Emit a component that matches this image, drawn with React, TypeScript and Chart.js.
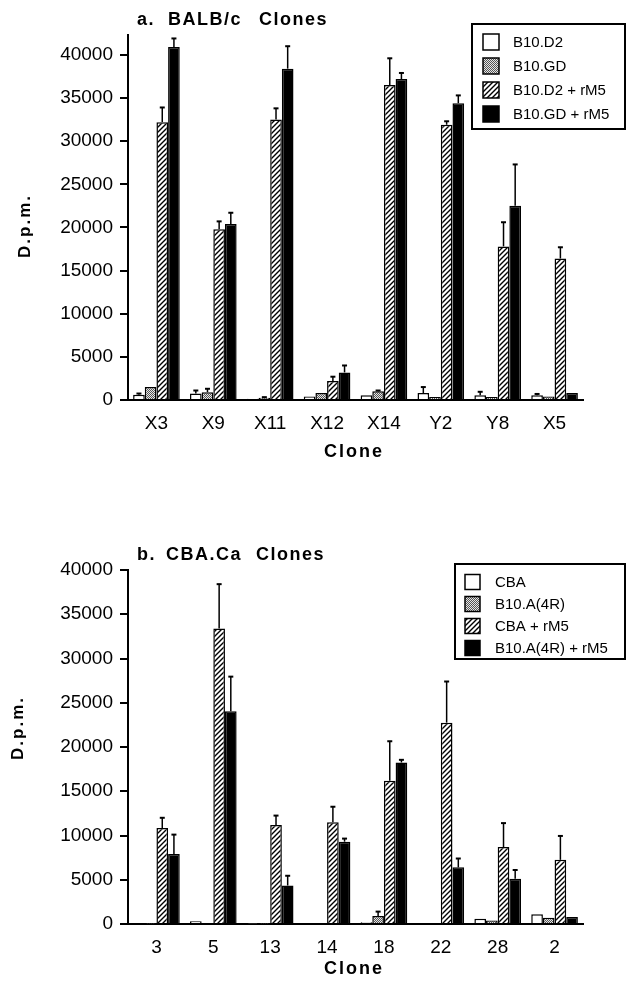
import React, { useEffect, useRef } from 'react';
import { Chart, registerables } from 'chart.js';
Chart.register(...registerables);

// ---------- data: panel a ----------
const clonesA = ['X3', 'X9', 'X11', 'X12', 'X14', 'Y2', 'Y8', 'X5'];
const seriesNamesA = ['B10.D2', 'B10.GD', 'B10.D2 + rM5', 'B10.GD + rM5'];
const b10d2 = [600, 750, 150, 400, 550, 800, 550, 550];
const b10d2Err = [150, 350, 0, 0, 0, 700, 400, 150];
const b10gd = [1500, 900, 250, 800, 1000, 350, 350, 400];
const b10gdErr = [0, 400, 80, 0, 100, 0, 0, 0];
const b10d2rM5 = [32200, 19800, 32500, 2200, 36500, 31900, 17800, 16400];
const b10d2rM5Err = [1700, 900, 1300, 500, 3100, 400, 2800, 1300];
const b10gdrM5 = [40900, 20400, 38400, 3200, 37200, 34400, 22500, 800];
const b10gdrM5Err = [1000, 1300, 2600, 800, 700, 900, 4800, 0];

// ---------- data: panel b ----------
const clonesB = ['3', '5', '13', '14', '18', '22', '28', '2'];
const seriesNamesB = ['CBA', 'B10.A(4R)', 'CBA + rM5', 'B10.A(4R) + rM5'];
const cba = [100, 300, 50, 100, 200, 100, 600, 1100];
const cbaErr = [0, 0, 0, 0, 0, 0, 0, 0];
const b10a4r = [50, 100, 50, 100, 900, 100, 400, 700];
const b10a4rErr = [0, 0, 0, 0, 500, 0, 0, 0];
const cbarM5 = [10850, 33400, 11200, 11500, 16200, 22750, 8700, 7250];
const cbarM5Err = [1150, 5000, 1050, 1750, 4450, 4650, 2700, 2700];
const b10a4rrM5 = [7900, 24050, 4350, 9300, 18250, 6400, 5100, 800];
const b10a4rrM5Err = [2200, 3900, 1100, 350, 300, 1000, 1000, 0];

// ---------- tick labels (both panels) ----------
const yTickValues = [0, 5000, 10000, 15000, 20000, 25000, 30000, 35000, 40000];

const FONT = '"Liberation Sans", Arial, Helvetica, sans-serif';

function makeStipple(): CanvasPattern | string {
  const c = document.createElement('canvas');
  c.width = 2; c.height = 2;
  const g = c.getContext('2d');
  if (!g) return '#999';
  g.fillStyle = '#e6e6e6'; g.fillRect(0, 0, 2, 2);
  g.fillStyle = '#555'; g.fillRect(0, 0, 1, 1); g.fillRect(1, 1, 1, 1);
  return g.createPattern(c, 'repeat') || '#999';
}

function makeHatch(): CanvasPattern | string {
  const s = 5;
  const c = document.createElement('canvas');
  c.width = s; c.height = s;
  const g = c.getContext('2d');
  if (!g) return '#ccc';
  g.fillStyle = '#fff'; g.fillRect(0, 0, s, s);
  g.strokeStyle = '#000'; g.lineWidth = 1.4;
  g.beginPath();
  g.moveTo(-1, s + 1); g.lineTo(s + 1, -1);
  g.moveTo(-1, 1); g.lineTo(1, -1);
  g.moveTo(s - 1, s + 1); g.lineTo(s + 1, s - 1);
  g.stroke();
  return g.createPattern(c, 'repeat') || '#ccc';
}

const errorBars = {
  id: 'errorBars',
  afterDatasetsDraw(chart: any) {
    const ctx = chart.ctx;
    const ys = chart.scales.y;
    chart.data.datasets.forEach((ds: any, di: number) => {
      const meta = chart.getDatasetMeta(di);
      const errs: number[] = ds.errors || [];
      meta.data.forEach((el: any, i: number) => {
        const e = errs[i];
        if (!e) return;
        const v = ds.data[i];
        const x = el.x;
        const y0 = ys.getPixelForValue(v);
        const y1 = ys.getPixelForValue(v + e);
        ctx.save();
        ctx.strokeStyle = '#000';
        ctx.lineWidth = 1.5;
        ctx.beginPath(); ctx.moveTo(x, y0); ctx.lineTo(x, y1); ctx.stroke();
        ctx.lineWidth = 2;
        ctx.beginPath(); ctx.moveTo(x - 2.5, y1); ctx.lineTo(x + 2.5, y1); ctx.stroke();
        ctx.restore();
      });
    });
  },
};

type Decor = {
  title: [string, number][];
  titleY: number;
  xlabel: [number, number];
  ylabel: [number, number];
  legend: { x0: number; y0: number; x1: number; y1: number; sx: number; sw: number; tx: number; rows: number[] };
};

function decorPlugin(cfg: Decor) {
  return {
    id: 'decor',
    afterDraw(chart: any) {
      const ctx = chart.ctx;
      ctx.save();
      ctx.fillStyle = '#000';
      ctx.textBaseline = 'middle';
      ctx.textAlign = 'left';
      ctx.font = `bold 18px ${FONT}`;
      (ctx as any).letterSpacing = '1.5px';
      cfg.title.forEach(([t, x]) => ctx.fillText(t, x, cfg.titleY));
      ctx.textAlign = 'center';
      ctx.font = `bold 18px ${FONT}`;
      (ctx as any).letterSpacing = '2px';
      ctx.fillText('Clone', cfg.xlabel[0], cfg.xlabel[1]);
      ctx.save();
      ctx.translate(cfg.ylabel[0], cfg.ylabel[1]);
      ctx.rotate(-Math.PI / 2);
      ctx.font = `bold 17px ${FONT}`;
      ctx.fillText('D.p.m.', 0, 0);
      ctx.restore();
      (ctx as any).letterSpacing = '0px';
      // legend
      const L = cfg.legend;
      ctx.strokeStyle = '#000';
      ctx.lineWidth = 2;
      ctx.fillStyle = '#fff';
      ctx.fillRect(L.x0, L.y0, L.x1 - L.x0, L.y1 - L.y0);
      ctx.strokeRect(L.x0, L.y0, L.x1 - L.x0, L.y1 - L.y0);
      ctx.textAlign = 'left';
      ctx.font = `15px ${FONT}`;
      chart.data.datasets.forEach((ds: any, i: number) => {
        const cy = L.rows[i];
        ctx.fillStyle = ds.backgroundColor;
        ctx.fillRect(L.sx, cy - L.sw / 2, L.sw, L.sw);
        ctx.lineWidth = 1.5;
        ctx.strokeRect(L.sx, cy - L.sw / 2, L.sw, L.sw);
        ctx.fillStyle = '#000';
        ctx.fillText(ds.label, L.tx, cy + 1);
      });
      ctx.restore();
    },
  };
}

function makeConfig(
  labels: string[],
  names: string[],
  values: number[][],
  errors: number[][],
  fills: (CanvasPattern | string)[],
  yMax: number,
  padTop: number,
  xHeight: number,
  decor: Decor,
): any {
  return {
    type: 'bar',
    data: {
      labels,
      datasets: names.map((n, i) => ({
        label: n,
        data: values[i],
        errors: errors[i],
        backgroundColor: fills[i],
        borderColor: '#000',
        borderWidth: 1.5,
        borderSkipped: 'bottom',
        categoryPercentage: 0.82,
        barPercentage: 1.0,
      })),
    },
    options: {
      responsive: false,
      animation: false,
      devicePixelRatio: 1,
      layout: { padding: { top: padTop, right: 43, left: 0, bottom: 0 } },
      plugins: { legend: { display: false }, tooltip: { enabled: false }, title: { display: false } },
      scales: {
        x: {
          grid: { display: false, drawTicks: false },
          border: { display: true, color: '#000', width: 2 },
          ticks: { color: '#000', font: { family: FONT, size: 19 }, padding: 12, maxRotation: 0 },
          afterFit: (s: any) => { s.height = xHeight; },
        },
        y: {
          min: 0,
          max: yMax,
          grid: { display: true, drawOnChartArea: false, drawTicks: true, tickLength: 8, color: '#000', lineWidth: 2 },
          border: { display: true, color: '#000', width: 2 },
          ticks: {
            color: '#000',
            font: { family: FONT, size: 19 },
            padding: 7,
            callback: (v: any) => String(v),
          },
          afterBuildTicks: (s: any) => { s.ticks = yTickValues.map((v) => ({ value: v })); },
          afterFit: (s: any) => { s.width = 128; },
        },
      },
    },
    plugins: [errorBars, decorPlugin(decor)],
  };
}

function Panel(props: { which: 'a' | 'b' }) {
  const ref = useRef<HTMLCanvasElement | null>(null);
  useEffect(() => {
    const cv = ref.current;
    if (!cv) return;
    const fills = ['#fff', makeStipple(), makeHatch(), '#000'];
    let cfg: any;
    if (props.which === 'a') {
      cfg = makeConfig(
        clonesA, seriesNamesA,
        [b10d2, b10gd, b10d2rM5, b10gdrM5],
        [b10d2Err, b10gdErr, b10d2rM5Err, b10gdrM5Err],
        fills, 42300, 35, 91,
        {
          title: [['a.', 137], ['BALB/c', 168], ['Clones', 259]],
          titleY: 20,
          xlabel: [354, 452],
          ylabel: [25, 226],
          legend: { x0: 472, y0: 24, x1: 625, y1: 129, sx: 483, sw: 16, tx: 513, rows: [42, 66, 90, 114] },
        },
      );
    } else {
      cfg = makeConfig(
        clonesB, seriesNamesB,
        [cba, b10a4r, cbarM5, b10a4rrM5],
        [cbaErr, b10a4rErr, cbarM5Err, b10a4rrM5Err],
        fills, 40000, 79, 58,
        {
          title: [['b.', 137], ['CBA.Ca', 166], ['Clones', 256]],
          titleY: 64,
          xlabel: [354, 478],
          ylabel: [18, 237],
          legend: { x0: 455, y0: 73, x1: 625, y1: 168, sx: 465, sw: 15, tx: 495, rows: [91, 113, 135, 157] },
        },
      );
    }
    const chart = new Chart(cv, cfg);
    return () => chart.destroy();
  }, [props.which]);
  return <canvas ref={ref} width={626} height={491} style={{ display: 'block', width: 626, height: 491 }} />;
}

export default function App() {
  return (
    <div style={{ position: 'absolute', left: 0, top: 0, width: 626, height: 982, background: '#fff' }}>
      <Panel which="a" />
      <Panel which="b" />
    </div>
  );
}
